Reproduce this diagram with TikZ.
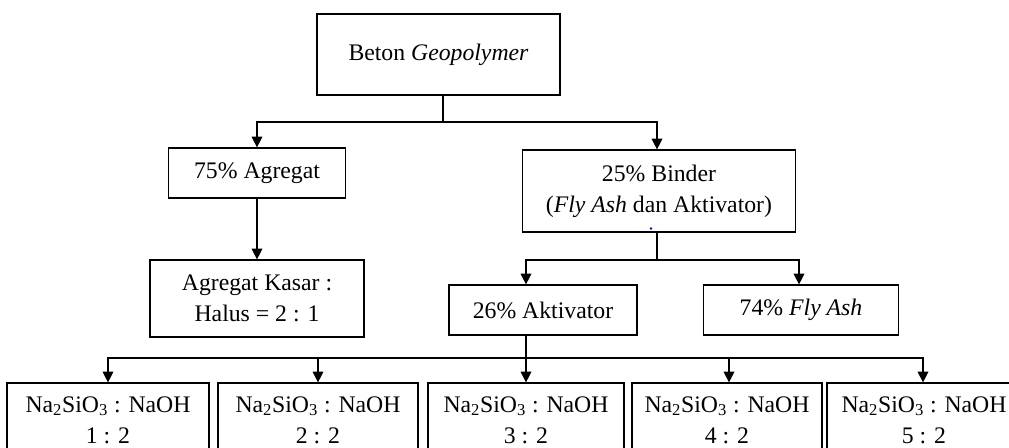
\documentclass[tikz,border=0pt]{standalone}
\usepackage{fontspec}
\setmainfont{Liberation Serif}
\usetikzlibrary{arrows.meta}
\begin{document}
\begin{tikzpicture}[x=0.75pt,y=-0.75pt,
  box/.style={draw,line width=0.9pt,align=center,inner sep=0pt,
    font=\fontsize{17.8}{23}\selectfont},
  conn/.style={line width=0.9pt},
  arr/.style={conn,-{Triangle[length=8pt,width=8pt]}}]
\useasboundingbox (0,0) rectangle (1009,448);
\clip (0,0) rectangle (1009,448);
% nodes
\node[box,minimum width=243*0.75pt,minimum height=81*0.75pt] (top) at (438.5,54.5) {Beton \textit{Geopolymer}};
\node[box,minimum width=177*0.75pt,minimum height=50*0.75pt] (agr) at (257,173) {75\% Agregat};
\node[box,minimum width=273*0.75pt,minimum height=82*0.75pt] (bind) at (659,191) {25\% Binder\\(\textit{Fly Ash} dan Aktivator)};
\node[box,minimum width=214*0.75pt,minimum height=77*0.75pt] (kas) at (257,298.5) {Agregat Kasar :\\Halus = 2 : 1};
\node[box,minimum width=188*0.75pt,minimum height=50*0.75pt] (akt) at (543,310) {26\% Aktivator};
\node[box,minimum width=195*0.75pt,minimum height=50*0.75pt] (fly) at (801,310) {74\% \textit{Fly Ash}};
\node[box,minimum width=202*0.75pt,minimum height=74*0.75pt] (b1) at (108,420) {Na\textsubscript{2}SiO\textsubscript{3} : NaOH\\1 : 2};
\node[box,minimum width=200*0.75pt,minimum height=74*0.75pt] (b2) at (318,420) {Na\textsubscript{2}SiO\textsubscript{3} : NaOH\\2 : 2};
\node[box,minimum width=196*0.75pt,minimum height=74*0.75pt] (b3) at (526,420) {Na\textsubscript{2}SiO\textsubscript{3} : NaOH\\3 : 2};
\node[box,minimum width=190*0.75pt,minimum height=74*0.75pt] (b4) at (727,420) {Na\textsubscript{2}SiO\textsubscript{3} : NaOH\\4 : 2};
\node[box,minimum width=194*0.75pt,minimum height=74*0.75pt] (b5) at (924,420) {Na\textsubscript{2}SiO\textsubscript{3} : NaOH\\5 : 2};
% junctions
\coordinate (j1) at (443,122);
\coordinate (j2) at (657,260);
\coordinate (j3) at (526,358);
% connectors
\draw[conn] (top.south -| j1) -- (j1);
\draw[arr] (j1) -| (agr.north);
\draw[arr] (j1) -| (bind.north -| j2);
\draw[arr] (agr.south) -- (kas.north);
\draw[conn] (bind.south -| j2) -- (j2);
\draw[arr] (j2) -| (akt.north -| b3.north);
\draw[arr] (j2) -| (fly.north -| 799,0);
\draw[arr] (akt.south -| b3.north) -- (b3.north);
\draw[arr] (j3) -| (b1.north);
\draw[arr] (j3) -| (b2.north);
\draw[arr] (j3) -| (b4.north -| 729,0);
\draw[arr] (j3) -| (b5.north -| 923,0);
\fill[blue] (651,228.5) circle (1.3);
\end{tikzpicture}
\end{document}
